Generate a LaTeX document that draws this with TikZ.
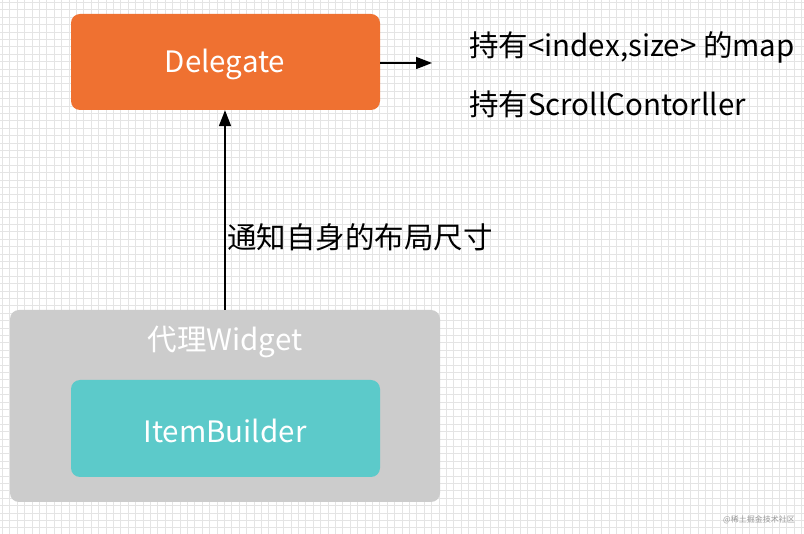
\documentclass[tikz,border=0pt]{standalone}
\usepackage{fontspec}
\setmainfont{Noto Sans CJK SC}
\usetikzlibrary{arrows.meta}
\definecolor{dlgorange}{HTML}{EF7131}
\definecolor{itemteal}{HTML}{5CCACA}
\definecolor{proxygray}{HTML}{CCCCCC}
\definecolor{gridgray}{HTML}{E4E4E4}
\definecolor{wmgray}{HTML}{9A9A9A}
\tikzset{
  box/.style={rounded corners=9pt, draw=none, text=white, font=\fontsize{29.5}{34}\selectfont, inner sep=0pt},
  plain/.style={font=\fontsize{29.5}{34}\selectfont, text=black, inner sep=0pt, anchor=west},
  arr/.style={-{Triangle[length=16pt,width=12pt]}, line width=1.6pt, black},
}
\begin{document}
\begin{tikzpicture}[x=1pt,y=-1pt]
\useasboundingbox (0,0) rectangle (804,534);
\fill[white] (0,0) rectangle (804,534);
% grid
\foreach \i in {0,...,108} {
  \draw[gridgray, line width=1.1pt] (2.5+\i*7.4,0) -- (2.5+\i*7.4,534);
}
\foreach \j in {0,...,72} {
  \draw[gridgray, line width=1.1pt] (0,2.5+\j*7.4) -- (804,2.5+\j*7.4);
}
% boxes
\node[box, fill=dlgorange, minimum width=309pt, minimum height=96pt] (delegate) at (225.5,62) {};
\node[box, fill=none] (delegatelabel) at (225,64) {Delegate};
\node[box, fill=proxygray, minimum width=430pt, minimum height=192pt] (proxy) at (225,406) {};
\node[box, fill=none, rounded corners=0pt] (proxylabel) at (225,342) {代理Widget};
\node[box, fill=itemteal, minimum width=309pt, minimum height=97pt] (item) at (225.5,428.5) {};
\node[box, fill=none] (itemlabel) at (225,431) {ItemBuilder};
% texts
\node[plain] (map) at (469,47) {持有<index,size> 的map};
\node[plain] (scroll) at (469,104) {持有ScrollContorller};
\node[plain] (notify) at (227,237) {通知自身的布局尺寸};
% arrows
\coordinate (rightend) at (432,63);
\draw[arr] (delegate.east |- rightend) -- (rightend);
\draw[arr] (proxy.north) -- (proxy.north |- delegate.south);
% watermark
\node[font=\fontsize{8}{9}\selectfont, text=wmgray, inner sep=0pt, anchor=east] (wm) at (795,520) {@稀土掘金技术社区};
\end{tikzpicture}
\end{document}
